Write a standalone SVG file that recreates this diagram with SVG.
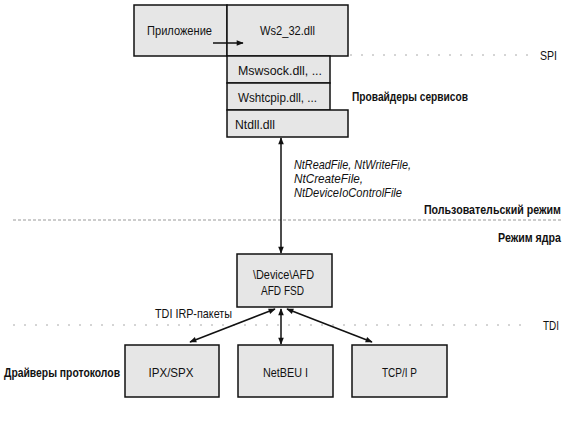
<svg xmlns="http://www.w3.org/2000/svg" width="570" height="427" viewBox="0 0 570 427">
<defs>
<marker id="ah" viewBox="0 0 10 10" refX="9" refY="5" markerWidth="8" markerHeight="7" orient="auto-start-reverse" markerUnits="userSpaceOnUse">
<path d="M0,1 L10,5 L0,9 z" fill="#111"/>
</marker>
<style>
.box{fill:#e6e6e6;stroke:#111;stroke-width:1.5}
.t{font-family:"Liberation Sans",Arial,sans-serif;font-size:13px;fill:#111}
.b{font-family:"Liberation Sans",Arial,sans-serif;font-size:13px;font-weight:bold;fill:#111}
.i{font-family:"Liberation Sans",Arial,sans-serif;font-size:13px;font-style:italic;fill:#111}
.sep{stroke:#999;stroke-width:1;stroke-dasharray:3,2;fill:none}
.sep2{stroke:#aaa;stroke-width:1;stroke-dasharray:2,9;fill:none}
.c{stroke:#111;stroke-width:1.5;fill:none}
</style>
</defs>
<rect width="570" height="427" fill="#fff"/>

<g id="separators">
<line class="sep2" x1="350" y1="55" x2="530" y2="55"/>
<line class="sep" x1="13" y1="220" x2="563" y2="220"/>
<line class="sep2" x1="13" y1="325" x2="530" y2="325"/>
</g>

<g id="app">
<rect class="box" x="134" y="5" width="93" height="51"/>
<text class="t" x="179.5" y="35" text-anchor="middle" textLength="65" lengthAdjust="spacingAndGlyphs">Приложение</text>
</g>
<g id="ws2">
<rect class="box" x="227" y="5" width="121" height="51"/>
<text class="t" x="287.5" y="35" text-anchor="middle" textLength="55" lengthAdjust="spacingAndGlyphs">Ws2_32.dll</text>
</g>
<g id="mswsock">
<rect class="box" x="227" y="56" width="103" height="27"/>
<text class="t" x="238" y="75" textLength="84" lengthAdjust="spacingAndGlyphs">Mswsock.dll, ...</text>
</g>
<g id="wshtcpip">
<rect class="box" x="227" y="83" width="103" height="27"/>
<text class="t" x="238" y="102" textLength="79" lengthAdjust="spacingAndGlyphs">Wshtcpip.dll, ...</text>
</g>
<g id="ntdll">
<rect class="box" x="227" y="110" width="121" height="27"/>
<text class="t" x="235" y="129" textLength="40" lengthAdjust="spacingAndGlyphs">Ntdll.dll</text>
</g>
<g id="afd">
<rect class="box" x="237" y="254" width="95" height="53"/>
<text class="t" x="283.5" y="279" text-anchor="middle" textLength="61" lengthAdjust="spacingAndGlyphs">\Device\AFD</text>
<text class="t" x="282.5" y="295" text-anchor="middle" textLength="43" lengthAdjust="spacingAndGlyphs">AFD FSD</text>
</g>
<g id="ipx">
<rect class="box" x="125" y="345" width="94" height="52"/>
<text class="t" x="171" y="377" text-anchor="middle" textLength="45" lengthAdjust="spacingAndGlyphs">IPX/SPX</text>
</g>
<g id="netbeui">
<rect class="box" x="238" y="345" width="95" height="52"/>
<text class="t" x="285.5" y="377" text-anchor="middle" textLength="45" lengthAdjust="spacingAndGlyphs">NetBEU I</text>
</g>
<g id="tcpip">
<rect class="box" x="352" y="345" width="95" height="52"/>
<text class="t" x="399.5" y="377" text-anchor="middle" textLength="35" lengthAdjust="spacingAndGlyphs">TCP/I P</text>
</g>

<g id="connectors">
<line class="c" x1="213" y1="43" x2="243" y2="43" marker-end="url(#ah)"/>
<line class="c" x1="281" y1="138" x2="281" y2="253" marker-start="url(#ah)" marker-end="url(#ah)"/>
<line class="c" x1="275" y1="309" x2="190" y2="342" marker-start="url(#ah)" marker-end="url(#ah)"/>
<line class="c" x1="281" y1="309" x2="281" y2="344" marker-start="url(#ah)" marker-end="url(#ah)"/>
<line class="c" x1="287" y1="309" x2="372" y2="342" marker-start="url(#ah)" marker-end="url(#ah)"/>
</g>

<g id="labels">
<text class="t" x="540" y="60" textLength="17" lengthAdjust="spacingAndGlyphs">SPI</text>
<text class="b" x="352" y="101" textLength="116" lengthAdjust="spacingAndGlyphs">Провайдеры сервисов</text>
<text class="i" x="294" y="169" textLength="117" lengthAdjust="spacingAndGlyphs">NtReadFile, NtWriteFile,</text>
<text class="i" x="294" y="183" textLength="69" lengthAdjust="spacingAndGlyphs">NtCreateFile,</text>
<text class="i" x="294" y="197" textLength="108" lengthAdjust="spacingAndGlyphs">NtDeviceIoControlFile</text>
<text class="b" x="0" y="0" text-anchor="end" transform="translate(561,214) scale(0.82,1)">Пользовательский режим</text>
<text class="b" x="0" y="0" text-anchor="end" transform="translate(561,242) scale(0.82,1)">Режим ядра</text>
<text class="t" x="155" y="318" textLength="77" lengthAdjust="spacingAndGlyphs">TDI IRP-пакеты</text>
<text class="t" x="543" y="330" textLength="16" lengthAdjust="spacingAndGlyphs">TDI</text>
<text class="b" x="4" y="377" textLength="116" lengthAdjust="spacingAndGlyphs">Драйверы протоколов</text>
</g>
</svg>
